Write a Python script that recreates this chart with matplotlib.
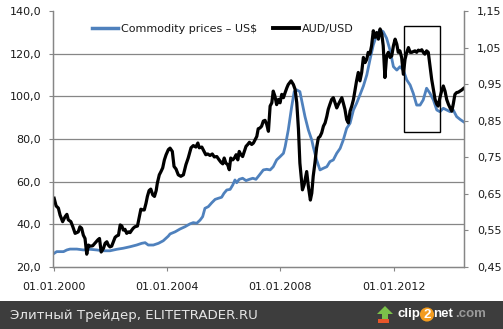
import numpy as np
import matplotlib
matplotlib.use('Agg')
import matplotlib.pyplot as plt
from matplotlib.patches import Rectangle, Polygon
from matplotlib.lines import Line2D

# commodity prices, US$ (left axis)
comm_year = [2000.02, 2000.11, 2000.23, 2000.35, 2000.47, 2000.58, 2000.82, 2001.05, 2001.29,
             2001.52, 2001.76, 2001.99, 2002.23, 2002.46, 2002.70, 2002.93, 2003.11, 2003.23,
             2003.34, 2003.52, 2003.70, 2003.87, 2004.05, 2004.11, 2004.29, 2004.46, 2004.64,
             2004.81, 2004.93, 2005.05, 2005.17, 2005.26, 2005.34, 2005.46, 2005.58, 2005.70,
             2005.81, 2005.93, 2006.01, 2006.11, 2006.23, 2006.32, 2006.40, 2006.46, 2006.55,
             2006.67, 2006.79, 2006.91, 2007.03, 2007.14, 2007.26, 2007.40, 2007.52, 2007.64,
             2007.75, 2007.87, 2007.99, 2008.11, 2008.17, 2008.28, 2008.40, 2008.49, 2008.58,
             2008.69, 2008.75, 2008.87, 2008.99, 2009.11, 2009.16, 2009.28, 2009.40, 2009.52,
             2009.64, 2009.75, 2009.87, 2009.99, 2010.11, 2010.22, 2010.34, 2010.46, 2010.58,
             2010.69, 2010.81, 2010.93, 2011.05, 2011.16, 2011.28, 2011.40, 2011.52, 2011.63,
             2011.75, 2011.87, 2011.99, 2012.11, 2012.22, 2012.34, 2012.46, 2012.58, 2012.69,
             2012.81, 2012.93, 2013.04, 2013.16, 2013.28, 2013.40, 2013.52, 2013.63, 2013.75,
             2013.87, 2013.99, 2014.10, 2014.22, 2014.34, 2014.46]
comm_val = [26.4, 27.2, 27.2, 27.2, 28.0, 28.4, 28.4, 28.0, 28.3,
            28.0, 27.6, 27.6, 28.3, 28.8, 29.5, 30.3, 31.1, 31.4,
            30.3, 30.3, 31.1, 32.3, 34.5, 35.5, 36.5, 37.8, 38.9,
            40.2, 40.8, 40.5, 42.0, 43.6, 47.5, 48.3, 50.1, 51.7,
            52.2, 52.7, 54.5, 56.1, 56.4, 58.4, 60.8, 59.5, 61.1,
            61.6, 60.5, 61.1, 61.6, 61.1, 63.1, 65.5, 65.8, 65.5,
            67.0, 70.2, 71.7, 73.3, 76.4, 84.2, 95.1, 102.2, 103.0,
            102.2, 98.3, 90.5, 84.2, 79.5, 76.4, 70.2, 65.5, 66.3,
            67.0, 69.4, 70.2, 73.3, 75.6, 79.5, 85.0, 87.4, 93.6,
            96.7, 100.7, 104.8, 110.0, 117.0, 124.1, 128.8, 131.1, 130.3,
            127.2, 121.7, 113.9, 112.3, 113.9, 112.3, 107.7, 105.3, 101.4,
            95.9, 95.9, 98.3, 103.8, 101.4, 98.3, 93.6, 92.8, 94.4,
            93.6, 92.8, 93.6, 90.5, 89.2, 88.1]

# AUD/USD (right axis)
aud_year = [2000.02, 2000.09, 2000.17, 2000.23, 2000.32, 2000.41, 2000.47, 2000.52, 2000.61,
            2000.68, 2000.76, 2000.82, 2000.87, 2000.93, 2000.99, 2001.05, 2001.11, 2001.17,
            2001.23, 2001.29, 2001.38, 2001.46, 2001.56, 2001.62, 2001.68, 2001.76, 2001.82,
            2001.88, 2001.93, 2001.99, 2002.05, 2002.11, 2002.17, 2002.23, 2002.29, 2002.35,
            2002.41, 2002.46, 2002.52, 2002.58, 2002.64, 2002.70, 2002.76, 2002.81, 2002.87,
            2002.96, 2003.03, 2003.08, 2003.15, 2003.20, 2003.26, 2003.31, 2003.37, 2003.43,
            2003.50, 2003.56, 2003.62, 2003.66, 2003.73, 2003.79, 2003.85, 2003.91, 2003.97,
            2004.05, 2004.11, 2004.19, 2004.25, 2004.32, 2004.40, 2004.49, 2004.58, 2004.67,
            2004.75, 2004.85, 2004.93, 2005.02, 2005.09, 2005.14, 2005.23, 2005.31, 2005.37,
            2005.44, 2005.52, 2005.60, 2005.67, 2005.76, 2005.84, 2005.91, 2005.97, 2006.02,
            2006.08, 2006.14, 2006.20, 2006.25, 2006.32, 2006.38, 2006.44, 2006.50, 2006.55,
            2006.61, 2006.67, 2006.73, 2006.79, 2006.85, 2006.91, 2006.99, 2007.05, 2007.11,
            2007.17, 2007.22, 2007.28, 2007.34, 2007.40, 2007.46, 2007.52, 2007.58, 2007.64,
            2007.70, 2007.75, 2007.81, 2007.87, 2007.93, 2007.99, 2008.05, 2008.11, 2008.17,
            2008.23, 2008.28, 2008.38, 2008.46, 2008.52, 2008.58, 2008.64, 2008.69, 2008.78,
            2008.84, 2008.93, 2008.99, 2009.06, 2009.11, 2009.16, 2009.22, 2009.28, 2009.34,
            2009.40, 2009.46, 2009.52, 2009.58, 2009.64, 2009.69, 2009.75, 2009.81, 2009.87,
            2009.93, 2009.99, 2010.05, 2010.11, 2010.17, 2010.22, 2010.28, 2010.34, 2010.40,
            2010.46, 2010.52, 2010.58, 2010.63, 2010.69, 2010.75, 2010.81, 2010.87, 2010.93,
            2010.99, 2011.05, 2011.10, 2011.16, 2011.22, 2011.28, 2011.34, 2011.40, 2011.46,
            2011.52, 2011.58, 2011.63, 2011.69, 2011.75, 2011.81, 2011.87, 2011.93, 2011.99,
            2012.05, 2012.11, 2012.16, 2012.22, 2012.28, 2012.34, 2012.40, 2012.46, 2012.52,
            2012.58, 2012.64, 2012.69, 2012.75, 2012.81, 2012.87, 2012.93, 2012.99, 2013.04,
            2013.10, 2013.16, 2013.22, 2013.28, 2013.34, 2013.40, 2013.46, 2013.52, 2013.57,
            2013.63, 2013.69, 2013.75, 2013.81, 2013.87, 2013.93, 2013.99, 2014.05, 2014.10,
            2014.16, 2014.22, 2014.28, 2014.34, 2014.40, 2014.46]
aud_val = [0.638, 0.617, 0.611, 0.592, 0.574, 0.588, 0.594, 0.579, 0.574,
           0.560, 0.542, 0.544, 0.546, 0.560, 0.556, 0.537, 0.528, 0.485,
           0.510, 0.507, 0.508, 0.515, 0.524, 0.528, 0.491, 0.501, 0.515,
           0.519, 0.510, 0.505, 0.507, 0.519, 0.531, 0.535, 0.537, 0.565,
           0.562, 0.551, 0.553, 0.542, 0.546, 0.544, 0.551, 0.556, 0.560,
           0.562, 0.588, 0.608, 0.606, 0.606, 0.624, 0.643, 0.659, 0.663,
           0.647, 0.643, 0.659, 0.679, 0.702, 0.711, 0.721, 0.743, 0.757,
           0.771, 0.775, 0.766, 0.725, 0.718, 0.702, 0.698, 0.702, 0.730,
           0.748, 0.776, 0.782, 0.778, 0.789, 0.776, 0.778, 0.766, 0.757,
           0.759, 0.755, 0.759, 0.751, 0.752, 0.743, 0.736, 0.732, 0.748,
           0.734, 0.730, 0.716, 0.748, 0.743, 0.748, 0.757, 0.743, 0.766,
           0.757, 0.752, 0.766, 0.780, 0.785, 0.791, 0.785, 0.789, 0.798,
           0.807, 0.828, 0.830, 0.835, 0.849, 0.851, 0.840, 0.821, 0.890,
           0.899, 0.931, 0.917, 0.894, 0.908, 0.899, 0.922, 0.913, 0.927,
           0.940, 0.949, 0.959, 0.949, 0.936, 0.899, 0.826, 0.734, 0.661,
           0.675, 0.711, 0.670, 0.633, 0.652, 0.698, 0.734, 0.776, 0.803,
           0.807, 0.817, 0.835, 0.844, 0.862, 0.881, 0.895, 0.908, 0.913,
           0.899, 0.885, 0.895, 0.904, 0.913, 0.899, 0.881, 0.853, 0.844,
           0.876, 0.890, 0.908, 0.931, 0.959, 0.982, 0.959, 0.982, 1.023,
           1.009, 1.018, 1.037, 1.032, 1.055, 1.096, 1.078, 1.091, 1.073,
           1.101, 1.087, 1.055, 0.968, 1.027, 1.037, 1.023, 1.027, 1.055,
           1.073, 1.059, 1.037, 1.041, 1.023, 0.977, 1.018, 1.037, 1.050,
           1.037, 1.037, 1.039, 1.041, 1.037, 1.043, 1.041, 1.044, 1.037,
           1.032, 1.041, 1.037, 1.000, 0.963, 0.936, 0.908, 0.895, 0.890,
           0.913, 0.931, 0.945, 0.931, 0.908, 0.895, 0.885, 0.876, 0.895,
           0.922, 0.927, 0.928, 0.931, 0.934, 0.938]

left_ticks = [20, 40, 60, 80, 100, 120, 140]
right_ticks = [0.45, 0.55, 0.65, 0.75, 0.85, 0.95, 1.05, 1.15]
x_ticks = [2000, 2004, 2008, 2012]
x_labels = ['01.01.2000', '01.01.2004', '01.01.2008', '01.01.2012']

grid_c = '#868686'
txt_c = '#1a1a1a'
blue = '#4f81bd'

fig = plt.figure(figsize=(5.03, 3.29), dpi=100)
ax = fig.add_axes([53 / 503, 62 / 329, 411 / 503, 256 / 329])
ax2 = ax.twinx()

ax.plot(comm_year, comm_val, color=blue, lw=2.0, solid_joinstyle='round')
ax2.plot(aud_year, aud_val, color='black', lw=2.3, solid_joinstyle='round')

ax.set_xlim(1999.98, 2014.48)
ax.set_ylim(20, 140)
ax2.set_ylim(0.45, 1.15)

ax.set_yticks(left_ticks)
ax.set_yticklabels([f'{v:.1f}'.replace('.', ',') for v in left_ticks])
ax2.set_yticks(right_ticks)
ax2.set_yticklabels([f'{v:.2f}'.replace('.', ',') for v in right_ticks])
ax.set_xticks(x_ticks)
ax.set_xticklabels(x_labels)

for g in left_ticks[1:-1]:
    ax.axhline(g, color=grid_c, lw=0.9, zorder=0)

for a in (ax, ax2):
    a.spines['top'].set_visible(False)
    for s in ('left', 'right', 'bottom'):
        a.spines[s].set_color(grid_c)
        a.spines[s].set_linewidth(0.9)
ax.tick_params(axis='y', direction='out', length=3, color=grid_c, labelsize=8,
               labelcolor=txt_c, pad=5.5)
ax2.tick_params(axis='y', direction='out', length=3, color=grid_c, labelsize=8,
                labelcolor=txt_c, pad=6.5)
ax.tick_params(axis='x', direction='out', length=3, color=grid_c, labelsize=8,
               labelcolor=txt_c, pad=8)

# highlighted period
ax2.add_patch(Rectangle((2012.38, 0.818), 1.27, 0.291, fill=False,
                        edgecolor='black', lw=1.0, zorder=5))

handles = [Line2D([], [], color=blue, lw=2.5), Line2D([], [], color='black', lw=2.8)]
ax2.legend(handles, ['Commodity prices – US$', 'AUD/USD'], ncol=2, frameon=False,
           loc='center left', bbox_to_anchor=(0.0949, 0.930), fontsize=8,
           borderpad=0, borderaxespad=0, handlelength=2.34, handletextpad=0.27,
           columnspacing=1.45, labelcolor=txt_c)

# footer band
fig.patches.append(Rectangle((0, 0), 1, 28 / 329, transform=fig.transFigure,
                             facecolor='#3d3d3d', edgecolor='none'))
fig.text(10 / 503, 14 / 329, 'Элитный Трейдер, ELITETRADER.RU', color='#e6e6e6',
         fontsize=9.6, va='center', ha='left')
fig.patches.append(Polygon([[382 / 503, 10 / 329], [388 / 503, 10 / 329], [388 / 503, 15 / 329],
                            [393 / 503, 15 / 329], [385 / 503, 23 / 329], [377 / 503, 15 / 329],
                            [382 / 503, 15 / 329]], closed=True, transform=fig.transFigure,
                           facecolor='#7cc24a', edgecolor='none'))
fig.patches.append(Rectangle((378 / 503, 6 / 329), 11 / 503, 4 / 329, transform=fig.transFigure,
                             facecolor='#e8562a', edgecolor='none'))
logo_font = dict(family='Liberation Sans', fontweight='bold', fontsize=9.5, va='center')
fig.text(398 / 503, 15 / 329, 'clip', color='white', ha='left', **logo_font)
fig.text(427 / 503, 14.5 / 329, '2', color='white', ha='center',
         bbox=dict(boxstyle='circle,pad=0.08', facecolor='#f39c1f', edgecolor='none'),
         **logo_font)
fig.text(433 / 503, 15 / 329, 'net', color='white', ha='left', **logo_font)
fig.text(455 / 503, 15 / 329, '.com', color='#9a9a9a', ha='left', **logo_font)

fig.savefig('out.png', dpi=100)
